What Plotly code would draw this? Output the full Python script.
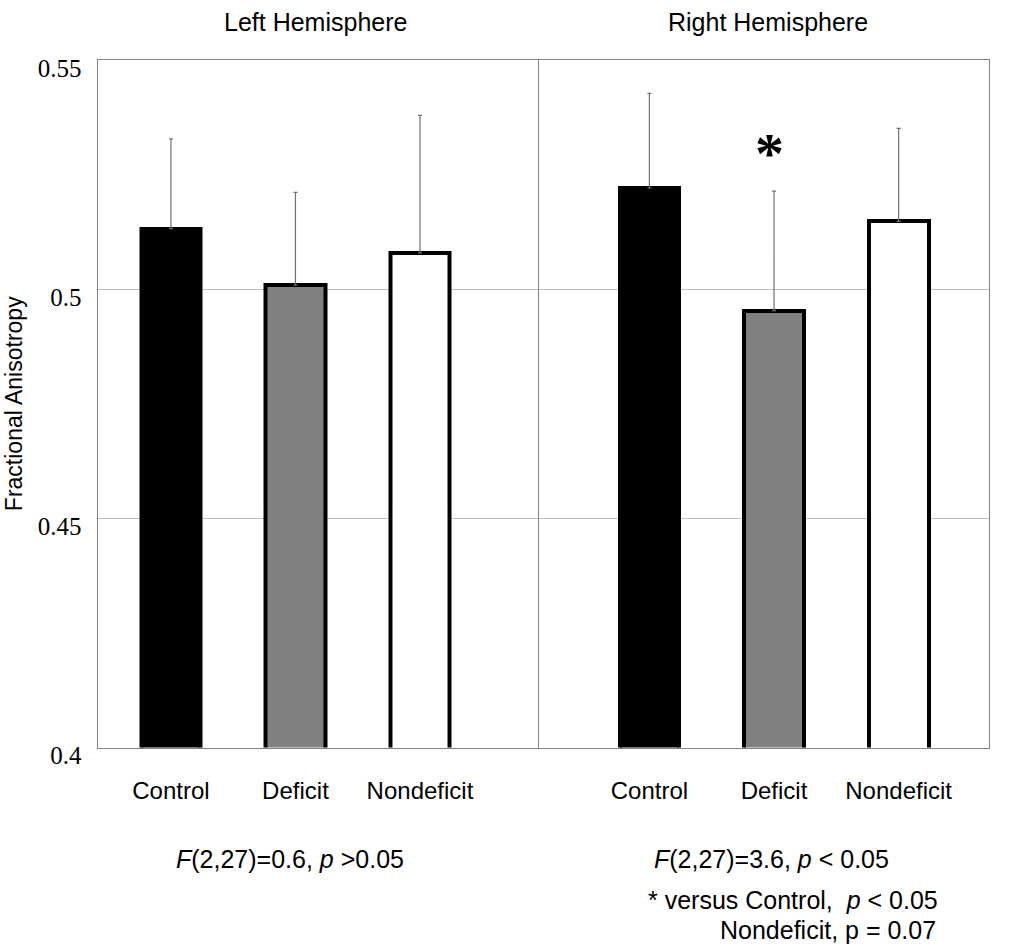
import plotly.graph_objects as go

# ---- data ----
categories = ["Control", "Deficit", "Nondeficit"]
left_means = [0.5132, 0.5009, 0.5079]
left_err_plus = [0.0196, 0.0202, 0.0300]
right_means = [0.5221, 0.4953, 0.5148]
right_err_plus = [0.0206, 0.0261, 0.0203]
bar_fill = ["#000000", "#808080", "#ffffff"]
y_ticks = [0.4, 0.45, 0.5, 0.55]
y_ticktext = ["0.4", "0.45", "0.5", "0.55"]
panel_titles = ["Left Hemisphere", "Right Hemisphere"]
star_value = 0.5296

W, H = 1017, 951
xpos = [0, 1, 2]

fig = go.Figure()

def add_panel(means, errs, xa, ya):
    fig.add_trace(go.Bar(
        x=xpos, y=means, width=0.48,
        marker=dict(color=bar_fill, line=dict(color="#000000", width=4)),
        error_y=dict(type="data", symmetric=False, array=errs,
                     arrayminus=[0] * len(errs), color="#707070",
                     thickness=1.2, width=2),
        xaxis=xa, yaxis=ya, showlegend=False, hoverinfo="skip"))

add_panel(left_means, left_err_plus, "x", "y")
add_panel(right_means, right_err_plus, "x2", "y2")

ytop = 1 - 60 / H
ybot = 1 - 747.5 / H

axis_common = dict(showline=True, mirror=True, linecolor="#808080", linewidth=1,
                   ticks="", zeroline=False, showgrid=False, automargin=False,
                   tickfont=dict(family="Liberation Sans, Arial", size=24, color="#000"))
yaxis_common = dict(range=[0.4, 0.55], showline=True, mirror=True, linecolor="#808080",
                    linewidth=1, showgrid=True, gridcolor="#c0c0c0", gridwidth=1,
                    tickvals=y_ticks, ticktext=y_ticktext, zeroline=False, ticks="",
                    automargin=False, domain=[ybot, ytop])

fig.update_layout(
    width=W, height=H,
    margin=dict(l=0, r=0, t=0, b=0, autoexpand=False),
    paper_bgcolor="white", plot_bgcolor="white",
    bargap=0,
    xaxis=dict(domain=[97.5 / W, 537.5 / W], range=[-0.59, 2.944],
               tickvals=xpos, ticktext=categories, anchor="y", **axis_common),
    xaxis2=dict(domain=[539 / W, 989 / W], range=[-0.886, 2.725],
                tickvals=xpos, ticktext=categories, anchor="y2", **axis_common),
    yaxis=dict(anchor="x", ticklabelstandoff=10, ticklabelshift=8,
               tickfont=dict(family="Liberation Serif, Times New Roman", size=25, color="#000"),
               title=dict(text="Fractional Anisotropy", standoff=8,
                          font=dict(family="Liberation Sans, Arial", size=23, color="#000")),
               **yaxis_common),
    yaxis2=dict(anchor="x2", showticklabels=False, **yaxis_common),
)

fig.update_xaxes(ticklabelstandoff=22)

ann_font = dict(family="Liberation Sans, Arial", size=25, color="#000")
# panel titles
fig.add_annotation(text=panel_titles[0], x=315 / W, y=1 - 22 / H, xref="paper", yref="paper",
                   showarrow=False, font=ann_font, xanchor="center", yanchor="middle")
fig.add_annotation(text=panel_titles[1], x=768 / W, y=1 - 22 / H, xref="paper", yref="paper",
                   showarrow=False, font=ann_font, xanchor="center", yanchor="middle")

# significance star
fig.add_annotation(text="<b>*</b>", x=1, y=star_value, xref="x2", yref="y2", showarrow=False,
                   xshift=-5,
                   font=dict(family="Liberation Serif, Times New Roman", size=58, color="#000"),
                   xanchor="center", yanchor="middle")

# statistics text
fig.add_annotation(text="<i>F</i>(2,27)=0.6, <i>p</i> &gt;0.05", x=290 / W, y=1 - 859 / H,
                   xref="paper", yref="paper", showarrow=False, font=ann_font,
                   xanchor="center", yanchor="middle")
fig.add_annotation(text="<i>F</i>(2,27)=3.6, <i>p</i> &lt; 0.05", x=771 / W, y=1 - 859 / H,
                   xref="paper", yref="paper", showarrow=False, font=ann_font,
                   xanchor="center", yanchor="middle")
fig.add_annotation(text="* versus Control,  <i>p</i> &lt; 0.05", x=646 / W, y=1 - 900 / H,
                   xref="paper", yref="paper", showarrow=False, font=ann_font,
                   xanchor="left", yanchor="middle")
fig.add_annotation(text="Nondeficit, p = 0.07", x=718 / W, y=1 - 930 / H,
                   xref="paper", yref="paper", showarrow=False, font=ann_font,
                   xanchor="left", yanchor="middle")

fig.write_html("out.html", config={"displayModeBar": False},
               post_script="document.body.style.margin='0';")
